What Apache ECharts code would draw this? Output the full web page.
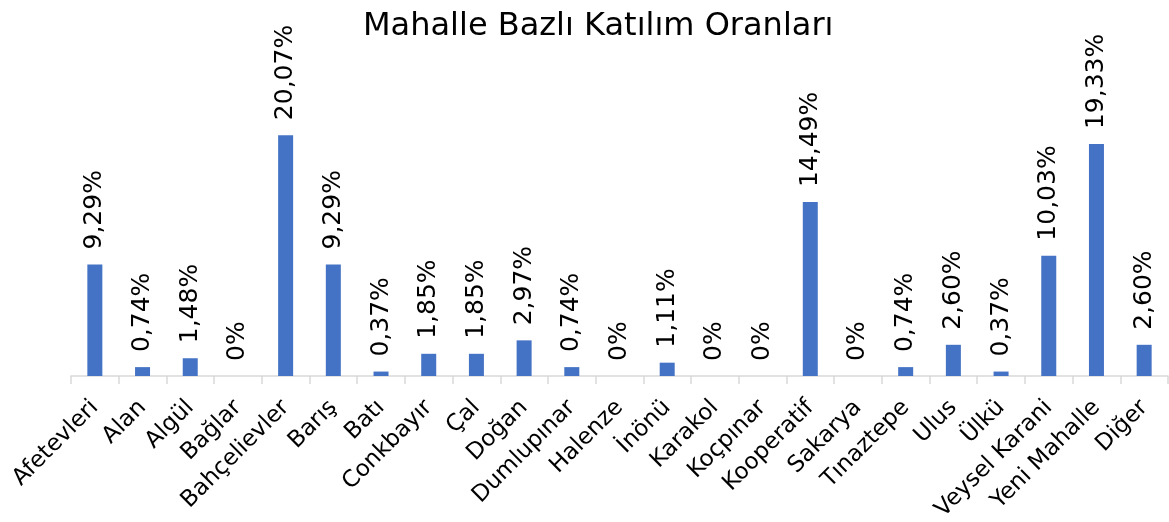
<!DOCTYPE html>
<html>
<head>
<meta charset="utf-8">
<script src="https://cdn.jsdelivr.net/npm/echarts@6/dist/echarts.min.js"></script>
<style>
    html, body { margin: 0; padding: 0; background: #fff; }
    #main { width: 1169px; height: 522px; }
</style>
</head>
<body>
<div id="main"></div>
<script>
let categories = ['Afetevleri', 'Alan', 'Algül', 'Bağlar', 'Bahçelievler', 'Barış', 'Batı', 'Conkbayır', 'Çal', 'Doğan',
    'Dumlupınar', 'Halenze', 'İnönü', 'Karakol', 'Koçpınar', 'Kooperatif', 'Sakarya', 'Tınaztepe', 'Ulus', 'Ülkü',
    'Veysel Karani', 'Yeni Mahalle', 'Diğer'];
let rates = [9.29, 0.74, 1.48, 0, 20.07, 9.29, 0.37, 1.85, 1.85, 2.97,
    0.74, 0, 1.11, 0, 0, 14.49, 0, 0.74, 2.60, 0.37,
    10.03, 19.33, 2.60];

function fmt(v) {
    if (v === 0) return '0%';
    return v.toFixed(2).replace('.', ',') + '%';
}

let myChart = echarts.init(document.getElementById('main'));

let option = {
    animation: false,
    title: {
        text: 'Mahalle Bazlı Katılım Oranları',
        left: 358,
        top: 6,
        textStyle: {
            fontFamily: 'DejaVu Sans',
            fontSize: 32,
            fontWeight: 'normal',
            color: '#000'
        }
    },
    grid: {
        left: 71,
        right: 1,
        top: 76,
        bottom: 146,
        containLabel: false,
        outerBoundsMode: 'none'
    },
    xAxis: {
        type: 'category',
        data: categories,
        axisLine: { lineStyle: { color: '#d9d9d9', width: 1.5 } },
        axisTick: { show: true, length: 8, lineStyle: { color: '#d9d9d9', width: 1.5 } },
        axisLabel: {
            rotate: 45,
            interval: 0,
            margin: 28,
            fontFamily: 'DejaVu Sans',
            fontSize: 23,
            color: '#000'
        }
    },
    yAxis: {
        type: 'value',
        min: 0,
        max: 25,
        show: false
    },
    series: [
        {
            type: 'bar',
            data: rates,
            barWidth: 15,
            itemStyle: { color: '#4472c4' },
            label: {
                show: true,
                position: 'top',
                rotate: 90,
                align: 'left',
                verticalAlign: 'middle',
                distance: 15,
                fontFamily: 'DejaVu Sans',
                fontSize: 25,
                color: '#000',
                formatter: function (p) { return fmt(p.value); }
            }
        }
    ]
};
myChart.setOption(option);
</script>
</body>
</html>
